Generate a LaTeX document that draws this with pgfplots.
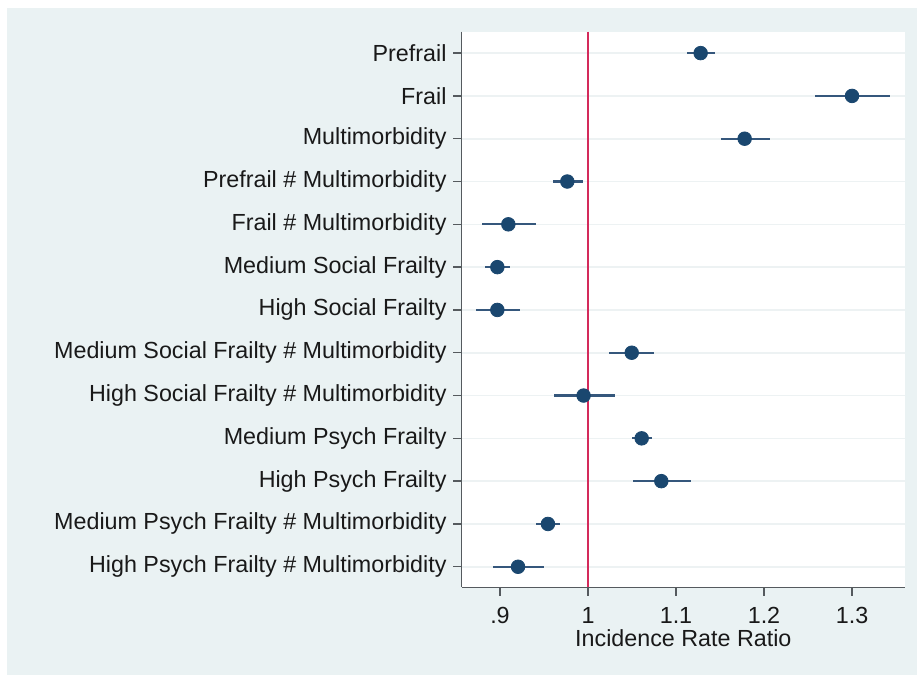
\documentclass[border=0pt]{standalone}
\usepackage{pgfplots}
\pgfplotsset{compat=1.18}
\usepackage{pgfplotstable}
\usepackage{fontspec}
\setmainfont{Liberation Sans}
\definecolor{bgcol}{HTML}{EAF2F3}
\definecolor{navy}{HTML}{1A476F}
\definecolor{cicol}{HTML}{35577C}
\definecolor{refred}{HTML}{D42A5B}
\definecolor{gridcol}{HTML}{EDF2F3}
\definecolor{axgray}{HTML}{555A5E}
\pgfplotstableread{
y est lo hi
1 1.128 1.112 1.144
2 1.300 1.258 1.343
3 1.178 1.151 1.207
4 0.9765 0.960 0.994
5 0.9095 0.8795 0.9406
6 0.897 0.8826 0.9114
7 0.897 0.8724 0.9227
8 1.0497 1.0242 1.0753
9 0.995 0.961 1.0307
10 1.061 1.050 1.073
11 1.0833 1.051 1.1167
12 0.9545 0.9413 0.968
13 0.9205 0.8917 0.950
}\coef
\begin{document}
\begin{tikzpicture}
\useasboundingbox (0,0) rectangle (458.5pt,337.5pt);
\fill[white] (0,0) rectangle (458.5pt,337.5pt);
\fill[bgcol] (3.5pt,0) rectangle (458.5pt,333.5pt);
\begin{axis}[
  at={(230.85pt,43.85pt)}, anchor=south west,
  scale only axis, width=221.65pt, height=277.8pt,
  axis background/.style={fill=white},
  xmin=0.8565, xmax=1.3602,
  ymin=0.5, ymax=13.48, y dir=reverse,
  axis x line*=bottom, axis y line*=left,
  axis line style={-, draw=axgray, line width=0.8pt},
  tick align=outside,
  major tick length=4.3pt,
  tick style={draw=axgray, line width=0.7pt},
  xtick={0.9,1,1.1,1.2,1.3},
  xticklabels={.9,1,1.1,1.2,1.3},
  ytick={1,...,13},
  yticklabels={Prefrail, Frail, Multimorbidity, Prefrail \# Multimorbidity, Frail \# Multimorbidity, Medium Social Frailty, High Social Frailty, Medium Social Frailty \# Multimorbidity, High Social Frailty \# Multimorbidity, Medium Psych Frailty, High Psych Frailty, Medium Psych Frailty \# Multimorbidity, High Psych Frailty \# Multimorbidity},
  ticklabel style={font=\fontsize{11.65}{14}\selectfont, text=black!90},
  yticklabel style={inner sep=3.1pt},
  xticklabel style={inner sep=2.2pt, yshift=-3.5pt},
  ymajorgrids, grid style={draw=gridcol, line width=0.8pt},
  xlabel={Incidence Rate Ratio},
  xlabel style={font=\fontsize{11.65}{14}\selectfont, text=black!90, yshift=3pt},
  /pgf/number format/assume math mode=true,
  clip=false,
]
\addplot[only marks, mark=*, mark size=3.4pt, mark options={fill=navy, draw=navy},
  error bars/.cd, x dir=both, x explicit, error mark=none,
  error bar style={draw=cicol, line width=1.1pt}]
  table[x=est, y=y,
    x error plus expr=\thisrow{hi}-\thisrow{est},
    x error minus expr=\thisrow{est}-\thisrow{lo}] {\coef};
\addplot[draw=refred, line width=1pt] coordinates {(1,0.5) (1,13.48)};
\end{axis}
\end{tikzpicture}
\end{document}
